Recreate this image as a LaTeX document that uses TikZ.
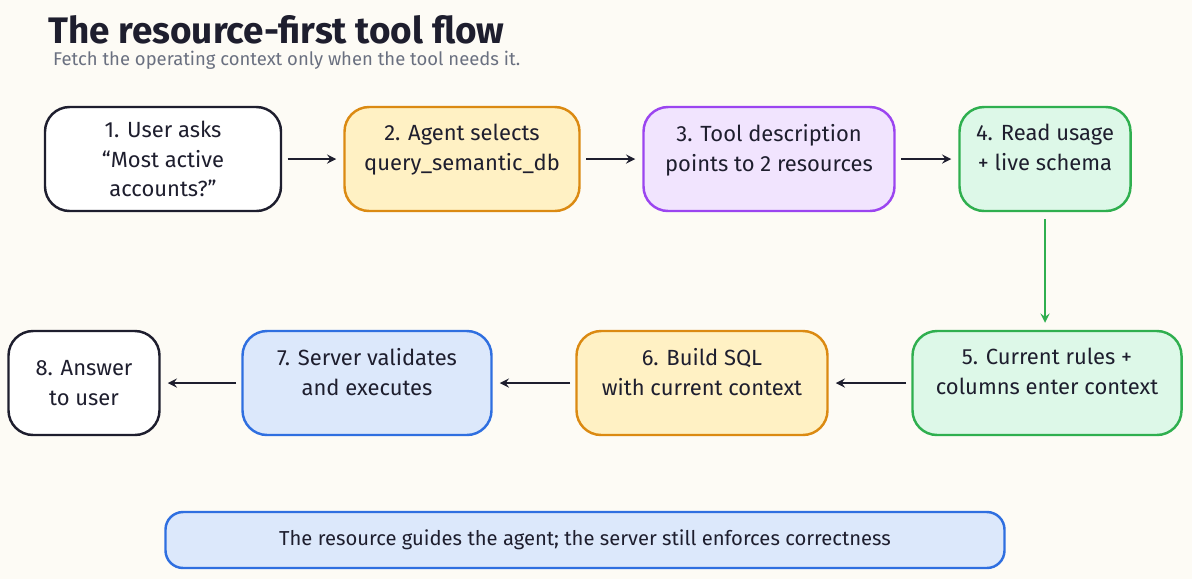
\documentclass[tikz,border=0pt]{standalone}
\usepackage{fontspec}
\setmainfont{Fira Sans}
\usetikzlibrary{positioning}
\definecolor{bgc}{HTML}{FDFBF5}
\definecolor{ink}{HTML}{1E1E2E}
\definecolor{subc}{HTML}{6A7080}
\definecolor{yelf}{HTML}{FFF1C4}\definecolor{yels}{HTML}{DB8A12}
\definecolor{purf}{HTML}{F1E4FE}\definecolor{purs}{HTML}{9B45F0}
\definecolor{grnf}{HTML}{DDF8E8}\definecolor{grns}{HTML}{2FAF4F}
\definecolor{bluf}{HTML}{DCE8FB}\definecolor{blus}{HTML}{2F6FE0}
\newcommand{\up}{\\[-4pt]\mbox{}}
\tikzset{
  box/.style={draw=ink,fill=white,line width=1.4pt,rounded corners=14pt,align=center,
    font=\fontsize{12.5}{17}\selectfont,text=ink,inner sep=0pt},
  yel/.style={box,draw=yels,fill=yelf},
  pur/.style={box,draw=purs,fill=purf},
  grn/.style={box,draw=grns,fill=grnf},
  blu/.style={box,draw=blus,fill=bluf},
  flow/.style={->,ink,line width=1.3pt,>=stealth}
}
\begin{document}
\begin{tikzpicture}[x=0.02cm,y=-0.02cm]
  \fill[bgc] (0,0) rectangle (1192,579);
  \useasboundingbox (0,0) rectangle (1192,579);
  \node[anchor=west,text=ink,font=\fontsize{21}{24}\selectfont\bfseries] (title) at (42,30) {The resource-first tool flow};
  \node[anchor=west,text=subc,font=\fontsize{10.5}{13}\selectfont] (sub) at (47,60) {Fetch the operating context only when the tool needs it.};

  \node[box,minimum width=236*0.02cm,minimum height=104*0.02cm] (s1) at (163,159) {1. User asks\\``Most active\\accounts?''};
  \node[yel,minimum width=235*0.02cm,minimum height=104*0.02cm] (s2) at (462,159) {2. Agent selects\\query\_semantic\_db\up};
  \node[pur,minimum width=251*0.02cm,minimum height=104*0.02cm] (s3) at (769,159) {3. Tool description\\points to 2 resources\up};
  \node[grn,minimum width=171*0.02cm,minimum height=104*0.02cm] (s4) at (1045,159) {4. Read usage\\+ live schema\up};
  \node[grn,minimum width=269*0.02cm,minimum height=104*0.02cm] (s5) at (1047,383) {5. Current rules +\\columns enter context\up};
  \node[yel,minimum width=251*0.02cm,minimum height=104*0.02cm] (s6) at (702,383) {6. Build SQL\\with current context\up};
  \node[blu,minimum width=249*0.02cm,minimum height=104*0.02cm] (s7) at (367,383) {7. Server validates\\and executes\up};
  \node[box,minimum width=151*0.02cm,minimum height=104*0.02cm] (s8) at (84,383) {8. Answer\\to user};

  \node[blu,rounded corners=10pt,minimum width=839*0.02cm,minimum height=56*0.02cm,font=\fontsize{11.5}{14}\selectfont] (note) at (585,540)
    {The resource guides the agent; the server still enforces correctness};

  \draw[flow] ([xshift=3pt]s1.east) -- ([xshift=-4pt]s2.west);
  \draw[flow] ([xshift=3pt]s2.east) -- ([xshift=-4pt]s3.west);
  \draw[flow] ([xshift=3pt]s3.east) -- ([xshift=-4pt]s4.west);
  \draw[flow,grns] ([yshift=-4pt]s4.south) -- ([yshift=4pt]s4.south |- s5.north);
  \draw[flow] ([xshift=-3pt]s5.west) -- ([xshift=4pt]s6.east);
  \draw[flow] ([xshift=-3pt]s6.west) -- ([xshift=4pt]s7.east);
  \draw[flow] ([xshift=-3pt]s7.west) -- ([xshift=4pt]s8.east);
\end{tikzpicture}
\end{document}
